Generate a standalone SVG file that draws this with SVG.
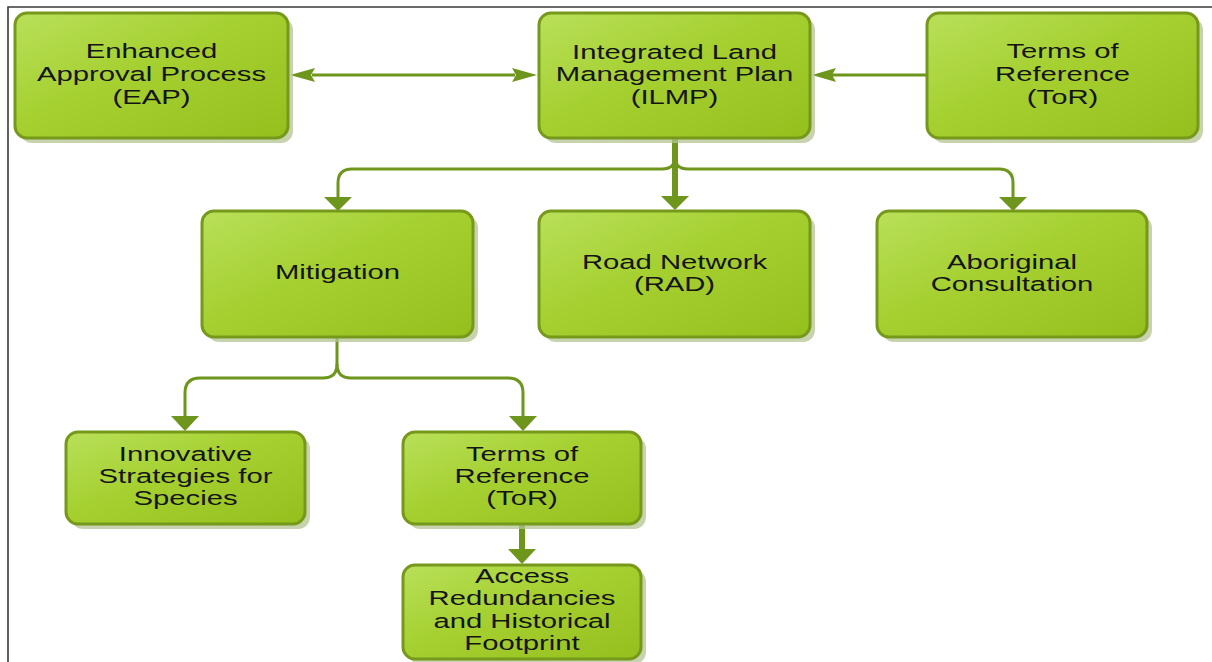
<svg xmlns="http://www.w3.org/2000/svg" width="1212" height="662" viewBox="0 0 1212 662">
<style>
.box{fill:url(#g);stroke:#76991b;stroke-width:3}
.sh{fill:#b3c493;opacity:.75}
.t{font-family:"Liberation Sans",Arial,sans-serif;font-size:19.5px;fill:#141414;text-anchor:middle}
.c{fill:none;stroke:#6f961c;stroke-width:3}
.ct{fill:none;stroke:#6f961c;stroke-width:6}
.ah{fill:#6f961c}
</style>
<defs>
<linearGradient id="g" x1="0" y1="0" x2="1" y2="1">
<stop offset="0" stop-color="#b9e05a"/>
<stop offset="0.45" stop-color="#a5d030"/>
<stop offset="1" stop-color="#94bf1d"/>
</linearGradient>
</defs>
<rect width="1212" height="662" fill="#fff"/>
<path d="M8 662 V7 H1212" fill="none" stroke="#3a3a3a" stroke-width="1.6"/>

<g id="connectors">
<line class="c" x1="312" y1="75" x2="515" y2="75"/>
<polygon class="ah" points="290,75 315,68 311,75 315,82"/>
<polygon class="ah" points="537,75 512,68 516,75 512,82"/>
<line class="c" x1="832" y1="75" x2="927" y2="75"/>
<polygon class="ah" points="812,75 836,68 832,75 836,82"/>

<line class="ct" x1="675" y1="138" x2="675" y2="198"/>
<polygon class="ah" points="661,196 689,196 675,210"/>
<path class="c" d="M675 157 Q675 169 662 169 L352 169 Q338 169 338 183 L338 198"/>
<path class="c" d="M675 157 Q675 169 688 169 L999 169 Q1013 169 1013 183 L1013 198"/>
<polygon class="ah" points="324,197 352,197 338,211"/>
<polygon class="ah" points="999,197 1027,197 1013,211"/>

<path class="c" d="M337 337 L337 364 Q337 378 323 378 L200 378 Q185 378 185 393 L185 418"/>
<path class="c" d="M337 364 Q337 378 351 378 L508 378 Q523 378 523 393 L523 418"/>
<polygon class="ah" points="171,416 199,416 185,431"/>
<polygon class="ah" points="509,416 537,416 523,431"/>

<line class="ct" x1="522" y1="524" x2="522" y2="552"/>
<polygon class="ah" points="508,549 536,549 522,564"/>
</g>

<g id="eap">
<rect class="sh" x="20" y="18" width="273" height="125" rx="12"/>
<rect class="box" x="15" y="13" width="273" height="125" rx="12"/>
<g transform="translate(151.5 0) scale(1.5 1)"><text class="t" x="0" y="58">Enhanced</text><text class="t" x="0" y="81">Approval Process</text><text class="t" x="0" y="104">(EAP)</text></g>
</g>

<g id="ilmp">
<rect class="sh" x="544" y="18" width="271" height="125" rx="12"/>
<rect class="box" x="539" y="13" width="271" height="125" rx="12"/>
<g transform="translate(674.5 0) scale(1.5 1)"><text class="t" x="0" y="59">Integrated Land</text><text class="t" x="0" y="81">Management Plan</text><text class="t" x="0" y="104">(ILMP)</text></g>
</g>

<g id="tor1">
<rect class="sh" x="932" y="18" width="271" height="125" rx="12"/>
<rect class="box" x="927" y="13" width="271" height="125" rx="12"/>
<g transform="translate(1062.5 0) scale(1.5 1)"><text class="t" x="0" y="58">Terms of</text><text class="t" x="0" y="81">Reference</text><text class="t" x="0" y="104">(ToR)</text></g>
</g>

<g id="mitigation">
<rect class="sh" x="207" y="216" width="271" height="126" rx="12"/>
<rect class="box" x="202" y="211" width="271" height="126" rx="12"/>
<g transform="translate(337.5 0) scale(1.5 1)"><text class="t" x="0" y="279">Mitigation</text></g>
</g>

<g id="road">
<rect class="sh" x="544" y="216" width="271" height="126" rx="12"/>
<rect class="box" x="539" y="211" width="271" height="126" rx="12"/>
<g transform="translate(674.5 0) scale(1.5 1)"><text class="t" x="0" y="269">Road Network</text><text class="t" x="0" y="291">(RAD)</text></g>
</g>

<g id="aboriginal">
<rect class="sh" x="882" y="216" width="270" height="126" rx="12"/>
<rect class="box" x="877" y="211" width="270" height="126" rx="12"/>
<g transform="translate(1012 0) scale(1.5 1)"><text class="t" x="0" y="269">Aboriginal</text><text class="t" x="0" y="291">Consultation</text></g>
</g>

<g id="innovative">
<rect class="sh" x="71" y="437" width="239" height="92" rx="12"/>
<rect class="box" x="66" y="432" width="239" height="92" rx="12"/>
<g transform="translate(185.5 0) scale(1.5 1)"><text class="t" x="0" y="461">Innovative</text><text class="t" x="0" y="483">Strategies for</text><text class="t" x="0" y="505">Species</text></g>
</g>

<g id="tor2">
<rect class="sh" x="408" y="437" width="238" height="92" rx="12"/>
<rect class="box" x="403" y="432" width="238" height="92" rx="12"/>
<g transform="translate(522 0) scale(1.5 1)"><text class="t" x="0" y="461">Terms of</text><text class="t" x="0" y="483">Reference</text><text class="t" x="0" y="505">(ToR)</text></g>
</g>

<g id="access">
<rect class="sh" x="408" y="570" width="238" height="94" rx="12"/>
<rect class="box" x="403" y="565" width="238" height="94" rx="12"/>
<g transform="translate(522 0) scale(1.5 1)"><text class="t" x="0" y="583">Access</text><text class="t" x="0" y="605">Redundancies</text><text class="t" x="0" y="628">and Historical</text><text class="t" x="0" y="650">Footprint</text></g>
</g>
</svg>
